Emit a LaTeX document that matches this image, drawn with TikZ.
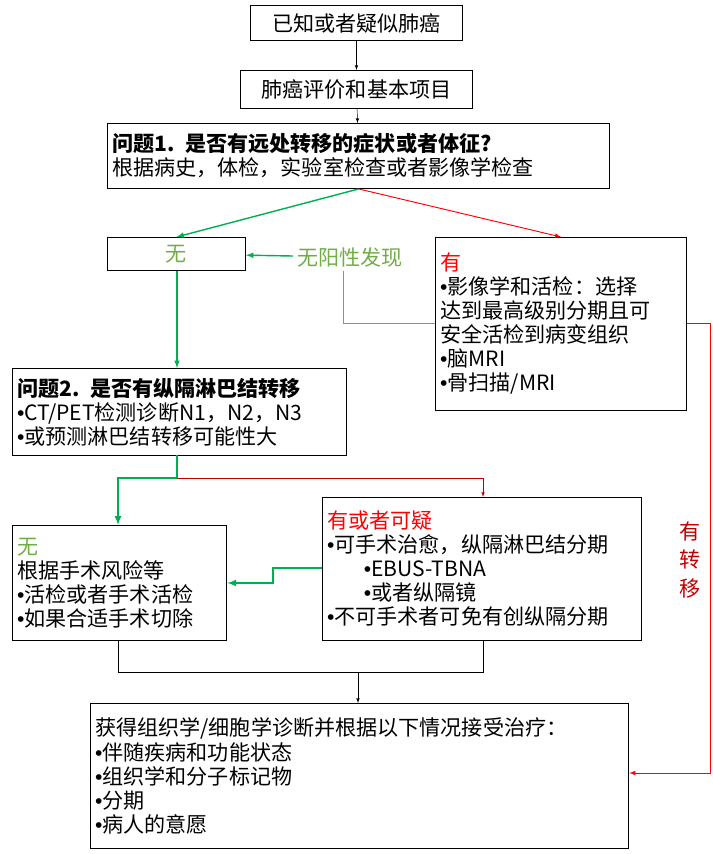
\documentclass[tikz,border=0pt]{standalone}
\usepackage{fontspec}
\setmainfont{Noto Sans CJK SC}
\newfontfamily\bulfont{Liberation Sans}
\newcommand{\bul}{{\bulfont •}}
\usetikzlibrary{calc}
\definecolor{darkgreen}{RGB}{0,176,80}
\definecolor{lightgreen}{RGB}{112,173,71}
\definecolor{darkred}{RGB}{192,0,0}
\tikzset{
  box/.style={draw, thick, anchor=north west, inner sep=4pt, align=left,
    font=\fontsize{18}{20.5}\selectfont},
  greenarrow/.style={very thick, darkgreen, -latex},
  redarrow/.style={thick, red, -latex},
}
\begin{document}
\begin{tikzpicture}[x=0.03cm, y=-0.03cm]
    \useasboundingbox (0, 0) rectangle (713, 854);
    % boxes
    \node [box, minimum width=212*0.03cm, minimum height=35*0.03cm, align=center] (start) at (250, 5) {已知或者疑似肺癌};
    \node [box, minimum width=232*0.03cm, minimum height=38*0.03cm, align=center] (eval) at (240, 70) {肺癌评价和基本项目};
    \node [box, minimum height=65*0.03cm, text width=493*0.03cm] (q1) at (107, 123)
      {\textbf{问题1. 是否有远处转移的症状或者体征?}\\根据病史，体检，实验室检查或者影像学检查};
    \node [box, minimum width=138*0.03cm, minimum height=33*0.03cm, align=center, text=lightgreen] (no1) at (107, 237) {无};
    \node [box, minimum height=173*0.03cm, text width=242*0.03cm] (yes1) at (435, 237)
      {{\color{red}有}\\\bul 影像学和活检：选择\\达到最高级别分期且可\\安全活检到病变组织\\\bul 脑MRI\\\bul 骨扫描/MRI};
    \node [box, minimum height=87*0.03cm, text width=325*0.03cm] (q2) at (12, 368)
      {\textbf{问题2. 是否有纵隔淋巴结转移}\\\bul CT/PET检测诊断N1，N2，N3\\\bul 或预测淋巴结转移可能性大};
    \node [box, minimum height=115*0.03cm, text width=205*0.03cm] (no2) at (12, 525)
      {{\color{lightgreen}无}\\根据手术风险等\\\bul 活检或者手术活检\\\bul 如果合适手术切除};
    \node [box, minimum height=143*0.03cm, text width=310*0.03cm] (yes2) at (322, 497)
      {{\color{red}有或者可疑}\\\bul 可手术治愈，纵隔淋巴结分期\\\hspace*{1.1cm}\bul EBUS-TBNA\\\hspace*{1.1cm}\bul 或者纵隔镜\\\bul 不可手术者可免有创纵隔分期};
    \node [box, minimum height=145*0.03cm, text width=529*0.03cm] (final) at (90, 703)
      {获得组织学/细胞学诊断并根据以下情况接受治疗：\\\bul 伴随疾病和功能状态\\\bul 组织学和分子标记物\\\bul 分期\\\bul 病人的意愿};
    \node [text=lightgreen, font=\fontsize{18}{20.5}\selectfont] (neg) at (350, 257) {无阳性发现};
    \node [text=darkred, font=\fontsize{18}{24}\selectfont, align=center] (meta) at (690, 560) {有\\转\\移};
    % connectors
    \draw [-latex] (start) -- (eval);
    \draw [-latex] (eval) -- (q1);
    \draw [greenarrow] (q1.south) -- (no1.north);
    \draw [redarrow] (q1.south) -- (yes1.north);
    \draw [greenarrow] (neg) -- (no1);
    \draw [lightgreen] (neg.south -| 343, 0) -- (343, 323) -- (yes1.west |- 0, 323);
    \draw [greenarrow] (no1.south -| 177, 0) -- (q2.north -| 177, 0);
    \draw [darkgreen, ultra thick, -latex] (177, 455) -- (177, 478) -- (118, 478) -- (no2.north -| 118, 0);
    \draw [darkred, -latex] (177, 478) -- (483, 478) -- (yes2.north -| 483, 0);
    \draw [darkgreen, ultra thick, -latex] (yes2.west |- 0, 568) -- (273, 568) -- (273, 583) -- (no2.east |- 0, 583);
    \draw (no2.south -| 118, 0) -- (118, 672) -- (483, 672) -- (yes2.south -| 483, 0);
    \draw [-latex] (358, 672) -- (final.north -| 358, 0);
    \draw [redarrow] (yes1.east |- 0, 323) -- (710, 323) -- (710, 773) -- (final.east |- 0, 773);
\end{tikzpicture}
\end{document}
